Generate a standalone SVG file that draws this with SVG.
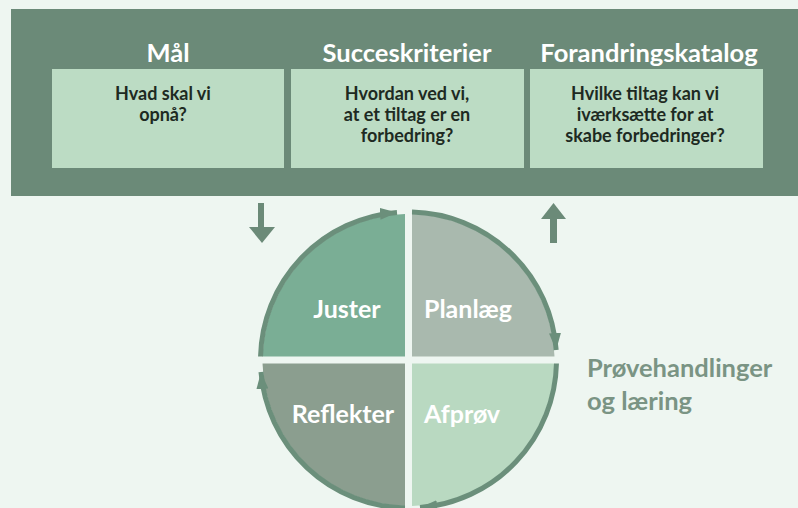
<svg xmlns="http://www.w3.org/2000/svg" width="798" height="508" viewBox="0 0 798 508">
<defs>
<style>
.hdr{font-family:Lato,"Open Sans",sans-serif;font-weight:700;font-size:25.5px;fill:#ffffff;text-anchor:middle}
.box{fill:#bcdcc4}
.q{font-family:Lato,"Open Sans",sans-serif;font-weight:700;font-size:18px;fill:#1e2a22;text-anchor:middle}
.ql{font-family:Lato,"Open Sans",sans-serif;font-weight:700;font-size:25px;fill:#ffffff;text-anchor:middle}
.ring{fill:none;stroke:#6b8f7b;stroke-width:5;marker-end:url(#ah)}
.side{font-family:Lato,"Open Sans",sans-serif;font-weight:700;font-size:25.5px;fill:#7a9484}
</style>
<marker id="ah" markerUnits="userSpaceOnUse" markerWidth="18" markerHeight="14" refX="17" refY="7" orient="auto">
<path d="M0,1 L17,7 L0,13 z" fill="#6b8f7b"/>
</marker>
</defs>
<rect x="0" y="0" width="798" height="508" fill="#eef6f1"/>
<g id="band">
<rect x="11" y="9" width="787" height="187" fill="#6b8a78"/>
</g>
<g id="node-maal">
<text class="hdr" x="168" y="62">Mål</text>
<rect class="box" x="52" y="69" width="232" height="99"/>
<text class="q" x="163" y="100">Hvad skal vi</text>
<text class="q" x="163" y="121">opnå?</text>
</g>
<g id="node-succes">
<text class="hdr" x="407" y="62">Succeskriterier</text>
<rect class="box" x="291" y="69" width="233" height="99"/>
<text class="q" x="407" y="100">Hvordan ved vi,</text>
<text class="q" x="407" y="121">at et tiltag er en</text>
<text class="q" x="407" y="142">forbedring?</text>
</g>
<g id="node-katalog">
<text class="hdr" x="649" y="62">Forandringskatalog</text>
<rect class="box" x="530" y="69" width="233" height="99"/>
<text class="q" x="645" y="100">Hvilke tiltag kan vi</text>
<text class="q" x="645" y="121">iværksætte for at</text>
<text class="q" x="645" y="142">skabe forbedringer?</text>
</g>
<g id="node-juster">
<path d="M405,356.5 L262.54,356.5 A146,146 0 0 1 405,214.04 Z" fill="#7aae95"/>
<text class="ql" x="347" y="318">Juster</text>
</g>
<g id="node-planlaeg">
<path d="M412,356.5 L412,214.04 A146,146 0 0 1 554.46,356.5 Z" fill="#a9b9ae"/>
<text class="ql" x="468" y="318">Planlæg</text>
</g>
<g id="node-afproev">
<path d="M412,363.5 L554.46,363.5 A146,146 0 0 1 412,505.96 Z" fill="#b9d9c1"/>
<text class="ql" x="462" y="423">Afprøv</text>
</g>
<g id="node-reflekter">
<path d="M405,363.5 L405,505.96 A146,146 0 0 1 262.54,363.5 Z" fill="#8b9e8f"/>
<text class="ql" x="343" y="423">Reflekter</text>
</g>
<g id="node-side">
<text class="side" x="587" y="377">Prøvehandlinger</text>
<text class="side" x="587" y="410">og læring</text>
</g>
<g id="connectors">
<path class="ring" d="M260.54,356.5 A148,148 0 0 1 397,212.45"/>
<path class="ring" d="M412,212.04 A148,148 0 0 1 556.16,350"/>
<path class="ring" d="M556.46,363.5 A148,148 0 0 1 420,507.55"/>
<path class="ring" d="M405,507.96 A148,148 0 0 1 260.99,372"/>
<g fill="#6b8a78">
<rect x="258" y="203" width="6" height="26"/>
<path d="M249,227 L275,227 L262,243 z"/>
<rect x="550" y="216" width="7" height="27"/>
<path d="M541,219 L566,219 L553.5,203 z"/>
</g>
</g>
</svg>
